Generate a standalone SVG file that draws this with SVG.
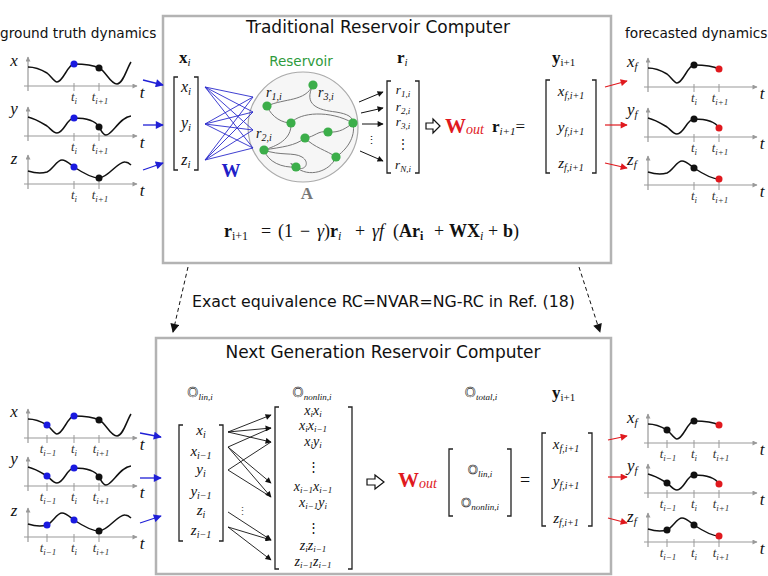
<svg xmlns="http://www.w3.org/2000/svg" xmlns:xlink="http://www.w3.org/1999/xlink" width="768" height="576" viewBox="0 0 768 576">
<style>
.sans{font-family:"DejaVu Sans","Noto Sans",sans-serif;fill:#111}
.m{font-family:"Liberation Serif","DejaVu Serif",serif;font-style:italic;fill:#111}
.up{font-style:normal}
.bd{font-weight:bold;font-style:normal}
.dd{font-family:"DejaVu Sans",sans-serif;font-style:normal;fill:none;stroke:#111;stroke-width:0.55}
.tl{font-family:"Liberation Serif","DejaVu Serif",serif;font-style:italic;font-size:13px;fill:#333;text-anchor:middle}
.box{fill:#fff;stroke:#b3b3b3;stroke-width:2.5}
.br{fill:none;stroke:#222;stroke-width:1.3}
.cv{fill:none;stroke:#111;stroke-width:1.5}
.axl{stroke:#999;stroke-width:1.2;fill:none}
.tk{stroke:#999;stroke-width:1;fill:none}
.edge{fill:none;stroke:#777;stroke-width:1}
.wl{stroke:#2a2acc;stroke-width:0.9;fill:none}
.node{fill:#3cae4a}
</style>
<defs>
<marker id="ag" viewBox="0 0 10 10" refX="9" refY="5" markerWidth="6" markerHeight="5" markerUnits="userSpaceOnUse" orient="auto"><path d="M0,0L10,5L0,10z" fill="#999"/></marker>
<marker id="ab" viewBox="0 0 10 10" refX="9" refY="5" markerWidth="9" markerHeight="8" markerUnits="userSpaceOnUse" orient="auto"><path d="M0,0L10,5L0,10z" fill="#1f1fd6"/></marker>
<marker id="ar" viewBox="0 0 10 10" refX="9" refY="5" markerWidth="9" markerHeight="7" markerUnits="userSpaceOnUse" orient="auto"><path d="M0,0L10,5L0,10z" fill="#e0191e"/></marker>
<marker id="ak" viewBox="0 0 10 10" refX="9" refY="5" markerWidth="8" markerHeight="6" markerUnits="userSpaceOnUse" orient="auto"><path d="M0,0L10,5L0,10z" fill="#111"/></marker>
<marker id="akd" viewBox="0 0 10 10" refX="9" refY="5" markerWidth="11" markerHeight="9" markerUnits="userSpaceOnUse" orient="auto"><path d="M0,0L10,5L0,10z" fill="#111"/></marker>
<g id="ax"><line class="axl" x1="28" y1="5" x2="28" y2="-29" marker-end="url(#ag)"/><line class="axl" x1="24" y1="0" x2="137" y2="0" marker-end="url(#ag)"/></g>
<path id="tk2" class="tk" d="M74,-3V5M99,-3V5"/>
<path id="tk3" class="tk" d="M47,-3V5M74,-3V5M99,-3V5"/>
</defs>

<!-- labels -->
<text class="sans" x="0" y="38" font-size="13.7">ground truth dynamics</text>
<text class="sans" x="625" y="38" font-size="13.7">forecasted dynamics</text>

<!-- Top box -->
<g id="trc">
<rect class="box" x="163" y="16" width="448" height="247"/>
<text class="sans" x="378" y="33" font-size="17" text-anchor="middle">Traditional Reservoir Computer</text>
<text class="m" x="179" y="63" font-size="17"><tspan class="bd">x</tspan><tspan font-size="11" dy="3">i</tspan></text>
<path class="br" d="M178,77H174V170H178M194,77H198V170H194"/>
<text class="m" x="186" y="92" font-size="16" text-anchor="middle">x<tspan font-size="11" dy="3">i</tspan></text>
<text class="m" x="186" y="128" font-size="16" text-anchor="middle">y<tspan font-size="11" dy="3">i</tspan></text>
<text class="m" x="186" y="165" font-size="16" text-anchor="middle">z<tspan font-size="11" dy="3">i</tspan></text>
<text x="231" y="177" font-family="Liberation Serif,DejaVu Serif,serif" font-weight="bold" font-size="19" fill="#2020c8" text-anchor="middle">W</text>
<text x="301" y="66" font-family="DejaVu Sans,sans-serif" font-size="13.5" fill="#2e9a3c" text-anchor="middle">Reservoir</text>
<text x="307" y="199" font-family="Liberation Serif,DejaVu Serif,serif" font-weight="bold" font-size="17" fill="#777" text-anchor="middle">A</text>
<text class="m" x="397" y="63" font-size="17"><tspan class="bd">r</tspan><tspan font-size="11" dy="3">i</tspan></text>
<path class="br" d="M391,81H387V173H391M415,81H419V173H415"/>
<text class="m" x="403" y="94" font-size="13" text-anchor="middle">r<tspan font-size="9" dy="3">1,i</tspan></text>
<text class="m" x="403" y="111" font-size="13" text-anchor="middle">r<tspan font-size="9" dy="3">2,i</tspan></text>
<text class="m" x="403" y="126" font-size="13" text-anchor="middle">r<tspan font-size="9" dy="3">3,i</tspan></text>
<text x="403" y="148" font-family="DejaVu Serif,serif" font-size="12" fill="#111" text-anchor="middle">⋮</text>
<text class="m" x="403" y="169" font-size="13" text-anchor="middle">r<tspan font-size="9" dy="3">N,i</tspan></text>
<polygon points="426,123 433,123 433,119 440,126 433,133 433,129 426,129" fill="#fff" stroke="#111" stroke-width="1.2"/>
<text class="m" x="445" y="133" font-size="21" fill="#e0191e"><tspan class="bd" fill="#e0191e">W</tspan><tspan font-size="14" dy="1" fill="#e0191e">out</tspan></text>
<text class="m" x="492" y="132" font-size="17"><tspan class="bd">r</tspan><tspan font-size="11" dy="3">i+1</tspan><tspan class="up" dy="-3">=</tspan></text>
<text class="m" x="552" y="63" font-size="17"><tspan class="bd">y</tspan><tspan class="up" font-size="11" dy="3">i+1</tspan></text>
<path class="br" d="M550,80H546V173H550M592,80H596V173H592"/>
<text class="m" x="571" y="96" font-size="15" text-anchor="middle">x<tspan font-size="10" dy="3">f,i+1</tspan></text>
<text class="m" x="571" y="132" font-size="15" text-anchor="middle">y<tspan font-size="10" dy="3">f,i+1</tspan></text>
<text class="m" x="571" y="168" font-size="15" text-anchor="middle">z<tspan font-size="10" dy="3">f,i+1</tspan></text>
<g class="m" font-size="18">
<text x="224" y="237"><tspan class="bd">r</tspan><tspan class="up" font-size="12" dy="3">i+1</tspan></text>
<text x="261" y="237" class="up">=</text>
<text x="278" y="237" class="up">(1</text>
<text x="300" y="237" class="up">−</text>
<text x="317" y="237">γ<tspan class="up">)</tspan><tspan class="bd">r</tspan><tspan font-size="12" dy="3">i</tspan></text>
<text x="355" y="237" class="up">+</text>
<text x="372" y="237">γf</text>
<text x="393" y="237"><tspan class="up">(</tspan><tspan class="bd">Ar</tspan><tspan class="bd" font-size="12" dy="3">i</tspan></text>
<text x="434" y="237" class="up">+</text>
<text x="449" y="237"><tspan class="bd">WX</tspan><tspan font-size="12" dy="3">i</tspan></text>
<text x="488" y="237" class="up">+</text>
<text x="503" y="237"><tspan class="bd">b</tspan><tspan class="up">)</tspan></text>
</g>
</g>

<!-- Reservoir graph -->
<g id="reservoir">
<circle cx="303" cy="127" r="55" fill="#f6f6f6" stroke="#aaa" stroke-width="1.2"/>
<path class="edge" d="M267,106C285,98 305,102 313,85"/>
<path class="edge" d="M267,106C272,118 283,123 291,123"/>
<path class="edge" d="M313,85C303,105 318,110 336,112C348,114 353,117 353,123"/>
<path class="edge" d="M291,123C300,112 330,110 353,123"/>
<path class="edge" d="M291,123C292,140 276,146 264,150"/>
<path class="edge" d="M264,150C282,147 295,146 305,138"/>
<path class="edge" d="M305,138C315,137 318,130 328,132C340,133 346,128 353,123"/>
<path class="edge" d="M305,138C315,148 326,150 336,157"/>
<path class="edge" d="M264,150C280,156 294,152 302,157C310,162 306,171 297,168C290,165 288,160 296,167"/>
<path class="edge" d="M296,167C308,178 330,172 336,157"/>
<path class="edge" d="M336,157C346,150 356,138 353,123"/>
<path class="edge" d="M264,150C268,162 282,168 296,167"/>
<circle class="node" cx="267" cy="106" r="4.6"/>
<circle class="node" cx="313" cy="85" r="4.6"/>
<circle class="node" cx="291" cy="123" r="4.6"/>
<circle class="node" cx="353" cy="123" r="4.6"/>
<circle class="node" cx="328" cy="132" r="4.6"/>
<circle class="node" cx="305" cy="138" r="4.6"/>
<circle class="node" cx="264" cy="150" r="4.6"/>
<circle class="node" cx="336" cy="157" r="4.6"/>
<circle class="node" cx="296" cy="167" r="4.6"/>
<text class="m" x="266" y="97" font-size="14">r<tspan font-size="10" dy="3">1,i</tspan></text>
<text class="m" x="318" y="97" font-size="14">r<tspan font-size="10" dy="3">3,i</tspan></text>
<text class="m" x="256" y="138" font-size="14">r<tspan font-size="10" dy="3">2,i</tspan></text>
</g>

<!-- Bottom box -->
<g id="ngrc">
<rect class="box" x="156" y="338" width="455" height="236"/>
<text class="sans" x="383" y="358" font-size="17" text-anchor="middle">Next Generation Reservoir Computer</text>
<text class="m" x="200" y="397" font-size="14" text-anchor="middle"><tspan class="dd">O</tspan><tspan font-size="9" dy="3">lin,i</tspan></text>
<text class="m" x="312" y="397" font-size="14" text-anchor="middle"><tspan class="dd">O</tspan><tspan font-size="9" dy="3">nonlin,i</tspan></text>
<text class="m" x="481" y="397" font-size="14" text-anchor="middle"><tspan class="dd">O</tspan><tspan font-size="9" dy="3">total,i</tspan></text>
<text class="m" x="552" y="398" font-size="17"><tspan class="bd">y</tspan><tspan class="up" font-size="11" dy="3">i+1</tspan></text>
<path class="br" d="M183,425H179V541H183M219,425H223V541H219"/>
<g class="m" font-size="15" text-anchor="middle">
<text x="201" y="435">x<tspan font-size="10" dy="3">i</tspan></text>
<text x="201" y="456">x<tspan font-size="10" dy="3">i−1</tspan></text>
<text x="201" y="474">y<tspan font-size="10" dy="3">i</tspan></text>
<text x="201" y="496">y<tspan font-size="10" dy="3">i−1</tspan></text>
<text x="201" y="515">z<tspan font-size="10" dy="3">i</tspan></text>
<text x="201" y="535">z<tspan font-size="10" dy="3">i−1</tspan></text>
</g>
<text x="242" y="515" font-family="DejaVu Serif,serif" font-size="11" fill="#555" text-anchor="middle">⋮</text>
<path class="br" d="M279,407H275V569H279M348,407H352V569H348"/>
<g class="m" font-size="14" text-anchor="middle">
<text x="313" y="415">x<tspan font-size="9" dy="2">i</tspan><tspan dy="-2">x</tspan><tspan font-size="9" dy="2">i</tspan></text>
<text x="313" y="430">x<tspan font-size="9" dy="2">i</tspan><tspan dy="-2">x</tspan><tspan font-size="9" dy="2">i−1</tspan></text>
<text x="313" y="446">x<tspan font-size="9" dy="2">i</tspan><tspan dy="-2">y</tspan><tspan font-size="9" dy="2">i</tspan></text>
<text x="313" y="491">x<tspan font-size="9" dy="2">i−1</tspan><tspan dy="-2">x</tspan><tspan font-size="9" dy="2">i−1</tspan></text>
<text x="313" y="507">x<tspan font-size="9" dy="2">i−1</tspan><tspan dy="-2">y</tspan><tspan font-size="9" dy="2">i</tspan></text>
<text x="313" y="550">z<tspan font-size="9" dy="2">i</tspan><tspan dy="-2">z</tspan><tspan font-size="9" dy="2">i−1</tspan></text>
<text x="313" y="566">z<tspan font-size="9" dy="2">i−1</tspan><tspan dy="-2">z</tspan><tspan font-size="9" dy="2">i−1</tspan></text>
</g>
<text x="313" y="471" font-family="DejaVu Serif,serif" font-size="13" fill="#111" text-anchor="middle">⋮</text>
<text x="313" y="532" font-family="DejaVu Serif,serif" font-size="13" fill="#111" text-anchor="middle">⋮</text>
<polygon points="367,479 375,479 375,475 384,482 375,489 375,485 367,485" fill="#fff" stroke="#111" stroke-width="1.2"/>
<text class="m" x="398" y="487" font-size="21"><tspan class="bd" fill="#e0191e">W</tspan><tspan font-size="14" dy="1" fill="#e0191e">out</tspan></text>
<path class="br" d="M453,449H449V516H453M507,449H511V516H507"/>
<text class="m" x="480" y="474" font-size="13" text-anchor="middle"><tspan class="dd">O</tspan><tspan font-size="9" dy="3">lin,i</tspan></text>
<text class="m" x="480" y="507" font-size="13" text-anchor="middle"><tspan class="dd">O</tspan><tspan font-size="9" dy="3">nonlin,i</tspan></text>
<text class="m up" x="525" y="486" font-size="18" text-anchor="middle" style="font-style:normal">=</text>
<path class="br" d="M546,433H542V526H546M588,433H592V526H588"/>
<text class="m" x="566" y="449" font-size="15" text-anchor="middle">x<tspan font-size="10" dy="3">f,i+1</tspan></text>
<text class="m" x="566" y="486" font-size="15" text-anchor="middle">y<tspan font-size="10" dy="3">f,i+1</tspan></text>
<text class="m" x="566" y="523" font-size="15" text-anchor="middle">z<tspan font-size="10" dy="3">f,i+1</tspan></text>
</g>

<text class="sans" x="192" y="307" font-size="15.8">Exact equivalence RC=NVAR=NG-RC in Ref. (18)</text>

<!-- Connectors -->
<g id="connectors">
<line x1="143" y1="80" x2="163" y2="85" stroke="#1f1fd6" stroke-width="1.3" marker-end="url(#ab)"/>
<line x1="143" y1="125" x2="163" y2="125" stroke="#1f1fd6" stroke-width="1.3" marker-end="url(#ab)"/>
<line x1="143" y1="170" x2="163" y2="163" stroke="#1f1fd6" stroke-width="1.3" marker-end="url(#ab)"/>
<line x1="605" y1="87" x2="627" y2="81" stroke="#e0191e" stroke-width="1.2" marker-end="url(#ar)"/>
<line x1="605" y1="125" x2="627" y2="125" stroke="#e0191e" stroke-width="1.2" marker-end="url(#ar)"/>
<line x1="605" y1="163" x2="627" y2="168" stroke="#e0191e" stroke-width="1.2" marker-end="url(#ar)"/>
<path class="wl" d="M205,87L253,97M205,87L253,112M205,87L253,130M205,87L253,148M205,124L253,97M205,124L253,112M205,124L253,130M205,124L253,148M205,160L253,97M205,160L253,112M205,160L253,130M205,160L253,148"/>
<line x1="359" y1="102" x2="383" y2="92" stroke="#111" stroke-width="1" marker-end="url(#ak)"/>
<line x1="361" y1="113" x2="383" y2="108" stroke="#111" stroke-width="1" marker-end="url(#ak)"/>
<line x1="362" y1="124" x2="383" y2="124" stroke="#111" stroke-width="1" marker-end="url(#ak)"/>
<line x1="360" y1="151" x2="383" y2="161" stroke="#111" stroke-width="1" marker-end="url(#ak)"/>
<text x="371" y="144" font-family="DejaVu Serif,serif" font-size="11" fill="#111" text-anchor="middle">⋮</text>
<line x1="188" y1="267" x2="173" y2="332" stroke="#111" stroke-width="1" stroke-dasharray="4,3" marker-end="url(#akd)"/>
<line x1="579" y1="267" x2="600" y2="332" stroke="#111" stroke-width="1" stroke-dasharray="4,3" marker-end="url(#akd)"/>
<path d="M228,447L271,428M228,470L271,442M228,470L271,497" stroke="#111" stroke-width="0.9" fill="none"/>
<g stroke="#111" stroke-width="0.9" fill="none">
<line x1="228" y1="432" x2="271" y2="415" marker-end="url(#ak)"/>
<line x1="228" y1="432" x2="271" y2="428" marker-end="url(#ak)"/>
<line x1="228" y1="432" x2="271" y2="442" marker-end="url(#ak)"/>
<line x1="228" y1="447" x2="271" y2="483" marker-end="url(#ak)"/>
<line x1="228" y1="447" x2="271" y2="497" marker-end="url(#ak)"/>
<line x1="228" y1="512" x2="271" y2="540" marker-end="url(#ak)"/>
<line x1="228" y1="527" x2="271" y2="540" marker-end="url(#ak)"/>
<line x1="228" y1="527" x2="271" y2="560" marker-end="url(#ak)"/>
</g>
<line x1="140" y1="433" x2="161" y2="437" stroke="#1f1fd6" stroke-width="1.3" marker-end="url(#ab)"/>
<line x1="140" y1="478" x2="161" y2="478" stroke="#1f1fd6" stroke-width="1.3" marker-end="url(#ab)"/>
<line x1="140" y1="523" x2="161" y2="516" stroke="#1f1fd6" stroke-width="1.3" marker-end="url(#ab)"/>
<line x1="608" y1="440" x2="627" y2="436" stroke="#e0191e" stroke-width="1.2" marker-end="url(#ar)"/>
<line x1="608" y1="477" x2="627" y2="477" stroke="#e0191e" stroke-width="1.2" marker-end="url(#ar)"/>
<line x1="608" y1="518" x2="627" y2="523" stroke="#e0191e" stroke-width="1.2" marker-end="url(#ar)"/>
</g>

<!-- Top-left ground truth plots -->
<g id="gt-top-x" transform="translate(0,86)">
<use href="#ax"/><use href="#tk2"/>
<path class="cv" d="M28,-19C36,-19 42,-16 47,-13C51,-10 54,-4 57,-4C63,-4 68,-22 74,-22C85,-22 93,-21 99,-18C106,-15 110,-2 117,-2C123,-2 127,-18 131,-24"/>
<circle cx="74" cy="-22" r="3.5" fill="#1a1ae0"/><circle cx="99" cy="-18" r="3.5" fill="#111"/>
<text class="m" x="14" y="-20" font-size="17" text-anchor="middle">x</text>
<text class="m" x="142" y="12" font-size="17" text-anchor="middle">t</text>
<text class="tl" x="74" y="15">t<tspan font-size="9" dy="3">i</tspan></text>
<text class="tl" x="100" y="15">t<tspan font-size="9" dy="3">i+1</tspan></text>
</g>
<g id="gt-top-y" transform="translate(0,136)">
<use href="#ax"/><use href="#tk2"/>
<path class="cv" d="M28,-19C36,-17 42,-13 47,-10C51,-7 53,-3 57,-3C64,-3 67,-18 74,-18C86,-18 95,-16 99,-9C102,-4 103,-1 106,-1C112,-1 120,-19 131,-20"/>
<circle cx="74" cy="-18" r="3.5" fill="#1a1ae0"/><circle cx="99" cy="-9" r="3.5" fill="#111"/>
<text class="m" x="14" y="-22" font-size="17" text-anchor="middle">y</text>
<text class="m" x="142" y="12" font-size="17" text-anchor="middle">t</text>
<text class="tl" x="74" y="15">t<tspan font-size="9" dy="3">i</tspan></text>
<text class="tl" x="100" y="15">t<tspan font-size="9" dy="3">i+1</tspan></text>
</g>
<g id="gt-top-z" transform="translate(0,184)">
<use href="#ax"/><use href="#tk2"/>
<path class="cv" d="M28,-13C34,-11 41,-10 47,-12C53,-15 57,-24 62,-24C66,-24 70,-20 74,-17C83,-11 92,-6 99,-6C108,-6 118,-23 125,-22C128,-22 130,-20 131,-19"/>
<circle cx="74" cy="-17" r="3.5" fill="#1a1ae0"/><circle cx="99" cy="-6" r="3.5" fill="#111"/>
<text class="m" x="14" y="-20" font-size="17" text-anchor="middle">z</text>
<text class="m" x="142" y="12" font-size="17" text-anchor="middle">t</text>
<text class="tl" x="74" y="15">t<tspan font-size="9" dy="3">i</tspan></text>
<text class="tl" x="100" y="15">t<tspan font-size="9" dy="3">i+1</tspan></text>
</g>

<!-- Top-right forecast plots -->
<g id="fc-top-x" transform="translate(620,87)">
<use href="#ax"/><use href="#tk2"/>
<path class="cv" d="M28,-19C36,-19 42,-16 47,-13C51,-10 54,-4 57,-4C63,-4 68,-22 74,-22C85,-22 93,-21 99,-18"/>
<circle cx="74" cy="-22" r="3.5" fill="#111"/><circle cx="99" cy="-18" r="3.5" fill="#e0191e"/>
<text class="m" x="7" y="-20" font-size="17">x<tspan font-size="11" dy="3">f</tspan></text>
<text class="m" x="142" y="12" font-size="17" text-anchor="middle">t</text>
<text class="tl" x="74" y="15">t<tspan font-size="9" dy="3">i</tspan></text>
<text class="tl" x="100" y="15">t<tspan font-size="9" dy="3">i+1</tspan></text>
</g>
<g id="fc-top-y" transform="translate(620,137)">
<use href="#ax"/><use href="#tk2"/>
<path class="cv" d="M28,-19C36,-17 42,-13 47,-10C51,-7 53,-3 57,-3C64,-3 67,-18 74,-18C86,-18 95,-16 99,-9"/>
<circle cx="74" cy="-18" r="3.5" fill="#111"/><circle cx="99" cy="-9" r="3.5" fill="#e0191e"/>
<text class="m" x="7" y="-22" font-size="17">y<tspan font-size="11" dy="3">f</tspan></text>
<text class="m" x="142" y="12" font-size="17" text-anchor="middle">t</text>
<text class="tl" x="74" y="15">t<tspan font-size="9" dy="3">i</tspan></text>
<text class="tl" x="100" y="15">t<tspan font-size="9" dy="3">i+1</tspan></text>
</g>
<g id="fc-top-z" transform="translate(620,185)">
<use href="#ax"/><use href="#tk2"/>
<path class="cv" d="M28,-13C34,-11 41,-10 47,-12C53,-15 57,-24 62,-24C66,-24 70,-20 74,-17C83,-11 92,-6 99,-6"/>
<circle cx="74" cy="-17" r="3.5" fill="#111"/><circle cx="99" cy="-6" r="3.5" fill="#e0191e"/>
<text class="m" x="7" y="-20" font-size="17">z<tspan font-size="11" dy="3">f</tspan></text>
<text class="m" x="142" y="12" font-size="17" text-anchor="middle">t</text>
<text class="tl" x="74" y="15">t<tspan font-size="9" dy="3">i</tspan></text>
<text class="tl" x="100" y="15">t<tspan font-size="9" dy="3">i+1</tspan></text>
</g>

<!-- Bottom-left ground truth plots -->
<g id="gt-bot-x" transform="translate(0,438)">
<use href="#ax"/><use href="#tk3"/>
<path class="cv" d="M28,-19C36,-19 42,-16 47,-13C51,-10 54,-4 57,-4C63,-4 68,-22 74,-22C85,-22 93,-21 99,-18C106,-15 110,-2 117,-2C123,-2 127,-18 131,-24"/>
<circle cx="47" cy="-13" r="3.5" fill="#1a1ae0"/><circle cx="74" cy="-22" r="3.5" fill="#1a1ae0"/><circle cx="99" cy="-18" r="3.5" fill="#111"/>
<text class="m" x="14" y="-21" font-size="17" text-anchor="middle">x</text>
<text class="m" x="142" y="12" font-size="17" text-anchor="middle">t</text>
<text class="tl" x="48" y="15">t<tspan font-size="9" dy="3">i−1</tspan></text>
<text class="tl" x="74" y="15">t<tspan font-size="9" dy="3">i</tspan></text>
<text class="tl" x="101" y="15">t<tspan font-size="9" dy="3">i+1</tspan></text>
</g>
<g id="gt-bot-y" transform="translate(0,486)">
<use href="#ax"/><use href="#tk3"/>
<path class="cv" d="M28,-19C36,-17 42,-13 47,-10C51,-7 53,-3 57,-3C64,-3 67,-18 74,-18C86,-18 95,-16 99,-9C102,-4 103,-1 106,-1C112,-1 120,-19 131,-20"/>
<circle cx="47" cy="-10" r="3.5" fill="#1a1ae0"/><circle cx="74" cy="-18" r="3.5" fill="#1a1ae0"/><circle cx="99" cy="-9" r="3.5" fill="#111"/>
<text class="m" x="14" y="-22" font-size="17" text-anchor="middle">y</text>
<text class="m" x="142" y="12" font-size="17" text-anchor="middle">t</text>
<text class="tl" x="48" y="15">t<tspan font-size="9" dy="3">i−1</tspan></text>
<text class="tl" x="74" y="15">t<tspan font-size="9" dy="3">i</tspan></text>
<text class="tl" x="101" y="15">t<tspan font-size="9" dy="3">i+1</tspan></text>
</g>
<g id="gt-bot-z" transform="translate(0,537)">
<use href="#ax"/><use href="#tk3"/>
<path class="cv" d="M28,-13C34,-11 41,-10 47,-12C53,-15 57,-24 62,-24C66,-24 70,-20 74,-17C83,-11 92,-6 99,-6C108,-6 118,-23 125,-22C128,-22 130,-20 131,-19"/>
<circle cx="47" cy="-12" r="3.5" fill="#1a1ae0"/><circle cx="74" cy="-17" r="3.5" fill="#1a1ae0"/><circle cx="99" cy="-6" r="3.5" fill="#111"/>
<text class="m" x="14" y="-21" font-size="17" text-anchor="middle">z</text>
<text class="m" x="142" y="12" font-size="17" text-anchor="middle">t</text>
<text class="tl" x="48" y="15">t<tspan font-size="9" dy="3">i−1</tspan></text>
<text class="tl" x="74" y="15">t<tspan font-size="9" dy="3">i</tspan></text>
<text class="tl" x="101" y="15">t<tspan font-size="9" dy="3">i+1</tspan></text>
</g>

<!-- Bottom-right forecast plots -->
<g id="fc-bot-x" transform="translate(620,443)">
<use href="#ax"/><use href="#tk3"/>
<path class="cv" d="M28,-19C36,-19 42,-16 47,-13C51,-10 54,-4 57,-4C63,-4 68,-22 74,-22C85,-22 93,-21 99,-18"/>
<circle cx="47" cy="-13" r="3.5" fill="#111"/><circle cx="74" cy="-22" r="3.5" fill="#111"/><circle cx="99" cy="-18" r="3.5" fill="#e0191e"/>
<text class="m" x="7" y="-20" font-size="17">x<tspan font-size="11" dy="3">f</tspan></text>
<text class="m" x="142" y="12" font-size="17" text-anchor="middle">t</text>
<text class="tl" x="48" y="15">t<tspan font-size="9" dy="3">i−1</tspan></text>
<text class="tl" x="74" y="15">t<tspan font-size="9" dy="3">i</tspan></text>
<text class="tl" x="101" y="15">t<tspan font-size="9" dy="3">i+1</tspan></text>
</g>
<g id="fc-bot-y" transform="translate(620,493)">
<use href="#ax"/><use href="#tk3"/>
<path class="cv" d="M28,-19C36,-17 42,-13 47,-10C51,-7 53,-3 57,-3C64,-3 67,-18 74,-18C86,-18 95,-16 99,-9"/>
<circle cx="47" cy="-10" r="3.5" fill="#111"/><circle cx="74" cy="-18" r="3.5" fill="#111"/><circle cx="99" cy="-9" r="3.5" fill="#e0191e"/>
<text class="m" x="7" y="-22" font-size="17">y<tspan font-size="11" dy="3">f</tspan></text>
<text class="m" x="142" y="12" font-size="17" text-anchor="middle">t</text>
<text class="tl" x="48" y="15">t<tspan font-size="9" dy="3">i−1</tspan></text>
<text class="tl" x="74" y="15">t<tspan font-size="9" dy="3">i</tspan></text>
<text class="tl" x="101" y="15">t<tspan font-size="9" dy="3">i+1</tspan></text>
</g>
<g id="fc-bot-z" transform="translate(620,542)">
<use href="#ax"/><use href="#tk3"/>
<path class="cv" d="M28,-13C34,-11 41,-10 47,-12C53,-15 57,-24 62,-24C66,-24 70,-20 74,-17C83,-11 92,-6 99,-6"/>
<circle cx="47" cy="-12" r="3.5" fill="#111"/><circle cx="74" cy="-17" r="3.5" fill="#111"/><circle cx="99" cy="-6" r="3.5" fill="#e0191e"/>
<text class="m" x="7" y="-20" font-size="17">z<tspan font-size="11" dy="3">f</tspan></text>
<text class="m" x="142" y="12" font-size="17" text-anchor="middle">t</text>
<text class="tl" x="48" y="15">t<tspan font-size="9" dy="3">i−1</tspan></text>
<text class="tl" x="74" y="15">t<tspan font-size="9" dy="3">i</tspan></text>
<text class="tl" x="101" y="15">t<tspan font-size="9" dy="3">i+1</tspan></text>
</g>
</svg>
